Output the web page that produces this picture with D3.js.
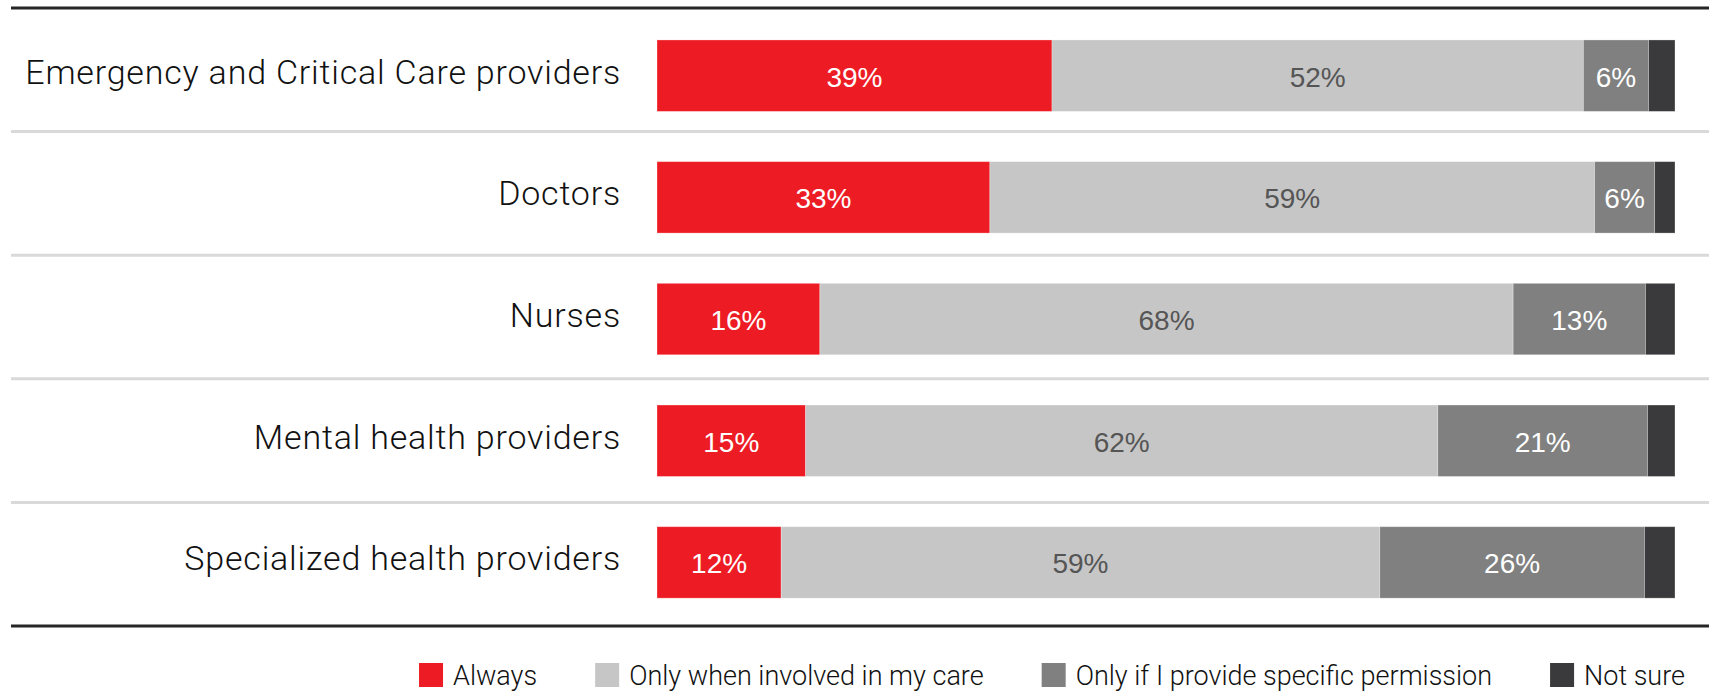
<!DOCTYPE html>
<html>
<head>
<meta charset="utf-8">
<script src="https://cdn.jsdelivr.net/npm/d3@7"></script>
<style>
  html, body { margin: 0; padding: 0; background: #fff; }
  svg { display: block; }
</style>
</head>
<body>
<svg id="chart" width="1709" height="691"></svg>
<script>
// ---- data ----
const categories = [
  "Emergency and Critical Care providers",
  "Doctors",
  "Nurses",
  "Mental health providers",
  "Specialized health providers"
];
const seriesNames = [
  "Always",
  "Only when involved in my care",
  "Only if I provide specific permission",
  "Not sure"
];
const always       = [38.8, 32.7, 16.0, 14.6, 12.2];
const whenInvolved = [52.2, 59.4, 68.1, 62.1, 58.8];
const permission   = [6.4, 5.9, 13.0, 20.6, 26.0];
const notSure      = [2.6, 2.0, 2.9, 2.7, 3.0];
const seriesColors = ["#ED1C24", "#C6C6C6", "#808080", "#3A3A3C"];
const labelColors  = ["#ffffff", "#555555", "#ffffff", null];

// ---- build table ----
const seriesValues = [always, whenInvolved, permission, notSure];
const rows = categories.map((c, i) => {
  const r = { cat: c };
  seriesNames.forEach((s, j) => r[s] = seriesValues[j][i]);
  return r;
});
const stacked = d3.stack().keys(seriesNames)(rows);

const svg = d3.select("#chart");
const W = 1709;

const x = d3.scaleLinear().domain([0, 100]).range([657, 1675]);
const y = d3.scaleBand().domain(categories).range([-10.3, 648.4]).paddingInner(0.413).paddingOuter(0.413);
const rowBand = d3.scaleBand().domain(categories).range([8, 626]);

// separators
svg.append("g").selectAll("line")
  .data(categories.slice(1))
  .join("line")
  .attr("x1", 11).attr("x2", W)
  .attr("y1", d => rowBand(d)).attr("y2", d => rowBand(d))
  .attr("stroke", "#D9D9D9").attr("stroke-width", 3);

// top and bottom rules
svg.append("line").attr("x1", 11).attr("x2", W).attr("y1", rowBand.range()[0]).attr("y2", rowBand.range()[0])
  .attr("stroke", "#262626").attr("stroke-width", 3);
svg.append("line").attr("x1", 11).attr("x2", W).attr("y1", rowBand.range()[1]).attr("y2", rowBand.range()[1])
  .attr("stroke", "#262626").attr("stroke-width", 3);

// bars
const layers = svg.append("g").selectAll("g")
  .data(stacked)
  .join("g")
  .attr("fill", (d, i) => seriesColors[i]);

layers.selectAll("rect")
  .data(d => d.map(v => Object.assign(v, { key: d.key, idx: d.index })))
  .join("rect")
  .attr("x", d => x(d[0]))
  .attr("y", d => y(d.data.cat))
  .attr("width", d => x(d[1]) - x(d[0]))
  .attr("height", y.bandwidth())
  .attr("stroke", "#ffffff").attr("stroke-opacity", 0.35).attr("stroke-width", 0.8);

// value labels
layers.selectAll("text")
  .data(d => d.filter(() => labelColors[d.index] !== null))
  .join("text")
  .attr("x", d => (x(d[0]) + x(d[1])) / 2)
  .attr("y", d => y(d.data.cat) + y.bandwidth() / 2 + 11)
  .attr("text-anchor", "middle")
  .attr("font-family", "'Liberation Sans', Arial, sans-serif")
  .attr("font-size", 28)
  .attr("fill", d => labelColors[d.idx])
  .text(d => Math.round(d[1] - d[0]) + "%");

// category labels
svg.append("g").selectAll("text")
  .data(categories)
  .join("text")
  .attr("x", 621)
  .attr("y", d => y(d) + y.bandwidth() / 2 + 8)
  .attr("text-anchor", "end")
  .attr("font-family", "Roboto, sans-serif")
  .attr("font-weight", 300)
  .attr("font-size", 34)
  .attr("letter-spacing", 0.8)
  .attr("fill", "#111")
  .text(d => d);

// legend (laid out right to left)
const legend = svg.append("g");
const items = legend.selectAll("g")
  .data(seriesNames)
  .join("g");
items.append("rect")
  .attr("width", 24).attr("height", 24)
  .attr("y", 663)
  .attr("fill", (d, i) => seriesColors[i]);
items.append("text")
  .attr("y", 685)
  .attr("font-family", "Roboto, sans-serif")
  .attr("font-weight", 300)
  .attr("font-size", 27)
  .attr("fill", "#111")
  .text(d => d);
let cursor = 1685;
const nodes = items.nodes();
for (let i = nodes.length - 1; i >= 0; i--) {
  const g = d3.select(nodes[i]);
  const tw = g.select("text").node().getComputedTextLength();
  const tx = cursor - tw;
  g.select("text").attr("x", tx);
  g.select("rect").attr("x", tx - 34);
  cursor = tx - 34 - 58;
}
</script>
</body>
</html>
